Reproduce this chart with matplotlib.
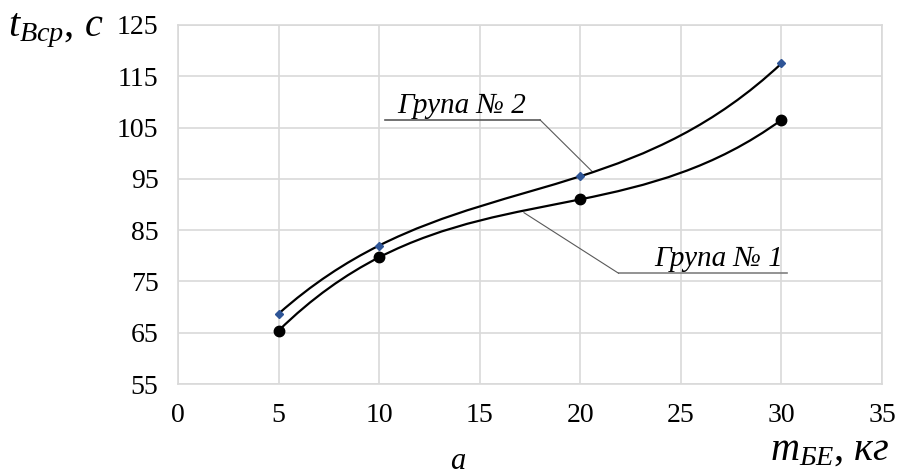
import matplotlib
matplotlib.use('Agg')
import matplotlib.pyplot as plt
import numpy as np
from matplotlib.path import Path
from matplotlib.patches import PathPatch

plt.rcParams['font.family'] = ['Liberation Serif', 'DejaVu Serif']
plt.rcParams['mathtext.fontset'] = 'custom'
plt.rcParams['mathtext.rm'] = 'Liberation Serif'
plt.rcParams['mathtext.it'] = 'Liberation Serif:italic'

# data
mass = [5, 10, 20, 30]
group1 = [65.4, 79.7, 91.0, 106.5]
group2 = [68.7, 82.0, 95.5, 117.5]
x_ticks = [0, 5, 10, 15, 20, 25, 30, 35]
y_ticks = [55, 65, 75, 85, 95, 105, 115, 125]


def smooth_path(xs, ys):
    # cubic trend line through the points, drawn as bezier segments
    coef = np.polyfit(xs, ys, 3)
    f = np.poly1d(coef)
    df = f.deriv()
    verts = [(xs[0], f(xs[0]))]
    codes = [Path.MOVETO]
    for a, b in zip(xs[:-1], xs[1:]):
        k = (b - a) / 3
        verts += [(a + k, f(a) + df(a) * k),
                  (b - k, f(b) - df(b) * k),
                  (b, f(b))]
        codes += [Path.CURVE4] * 3
    return Path(verts, codes)


fig = plt.figure(figsize=(9.17, 4.75), dpi=100)
ax = fig.add_axes([178 / 917, 1 - 384 / 475, 704 / 917, 359 / 475])

grid_c = '#d9d9d9'
ax.set_xlim(0, 35)
ax.set_ylim(55, 125)
ax.set_xticks(x_ticks)
ax.set_yticks(y_ticks)
ax.grid(True, color=grid_c, linewidth=1.2)
ax.set_axisbelow(True)
for s in ax.spines.values():
    s.set_color(grid_c)
    s.set_linewidth(1.2)
ax.tick_params(length=0, labelsize=20, pad=14)

for ys in (group1, group2):
    ax.add_patch(PathPatch(smooth_path(mass, ys), facecolor='none',
                           edgecolor='black', linewidth=1.6, zorder=3))

ax.plot(mass, group1, linestyle='none', marker='o', markersize=7.5,
        color='black', zorder=4)
ax.plot(mass, group2, linestyle='none', marker='D', markersize=4,
        color='#2e5597', zorder=4)

# callouts
ax.plot([10.3, 18.0], [106.5, 106.5], color='#595959', linewidth=1.2)
ax.plot([18.0, 20.6], [106.5, 96.4], color='#595959', linewidth=0.8)
ax.text(10.9, 107.8, 'Група № 2', fontsize=21, style='italic', va='baseline')

ax.plot([21.9, 30.3], [76.6, 76.6], color='#808080', linewidth=1.2)
ax.plot([17.2, 21.9], [88.4, 76.6], color='#595959', linewidth=0.8)
ax.text(23.7, 78.1, 'Група № 1', fontsize=21, style='italic', va='baseline')

# axis captions
fig.text(8 / 917, 1 - 36 / 475, r'$t_{Вср}$, $с$', fontsize=29)
fig.text(770 / 917, 1 - 460 / 475, r'$m_{БЕ}$, $кг$', fontsize=29)
fig.text(458 / 917, 1 - 469 / 475, 'а', fontsize=22, style='italic', ha='center')

fig.savefig('out.png', dpi=100)
